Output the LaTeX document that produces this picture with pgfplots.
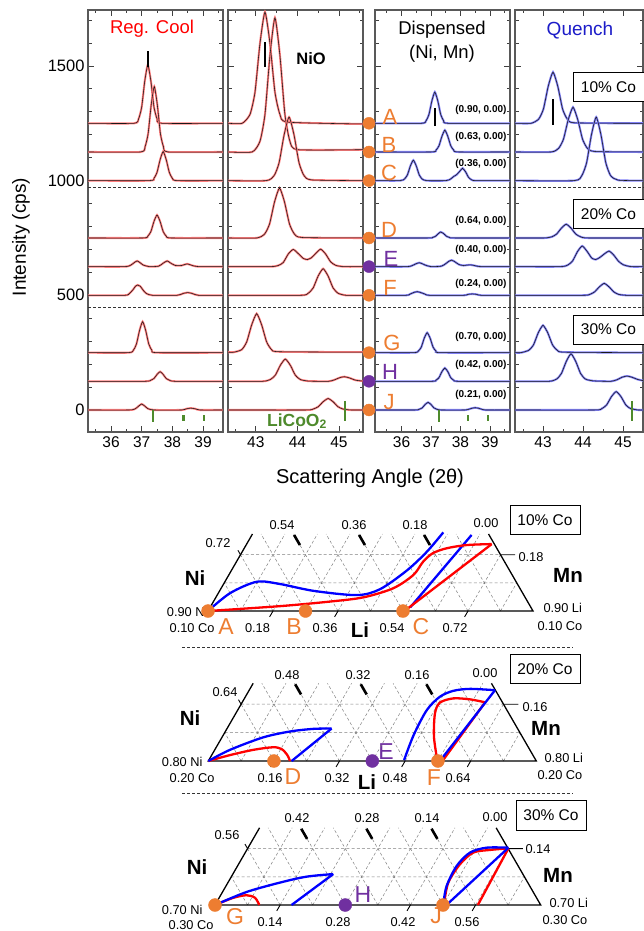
\documentclass[border=0pt]{standalone}
\usepackage{fontspec}
\setmainfont{Liberation Sans}
\usepackage{pgfplots}
\pgfplotsset{compat=1.18}
\newcommand{\fs}[1]{\fontsize{#1}{#1}\selectfont}
\definecolor{orng}{HTML}{ED7D31}
\definecolor{purp}{HTML}{7030A0}
\definecolor{grn}{HTML}{4E8A2C}
\definecolor{qblue}{HTML}{1C1CC8}
\definecolor{fitred}{HTML}{FF7C7C}
\definecolor{fitblue}{HTML}{7F7FF6}
\pgfplotsset{
  xrd/.style={scale only axis, anchor=south west, height=422pt, ymin=-96, ymax=1744,
    ytick={0,500,1000,1500},
    minor ytick={100,200,300,400,600,700,800,900,1100,1200,1300,1400,1600,1700},
    yticklabels={}, tick align=inside, xtick pos=both, ytick pos=both,
    major tick length=6pt, minor tick length=3.5pt,
    axis line style={draw=black!65, line width=1.2pt},
    tick style={black!75, line width=0.8pt},
    xticklabel style={font=\fs{15.5}, yshift=-1pt},
    yticklabel style={font=\fs{16.5}},
    /pgf/number format/assume math mode=true,
    clip=true},
  rfit/.style={fitred, line width=2.1pt, smooth, tension=0.35},
  bfit/.style={fitblue, line width=2.1pt, smooth, tension=0.35},
  dat/.style={black!90, line width=0.55pt, smooth, tension=0.35},
  tern/.style={scale only axis, anchor=south west, hide axis, clip=false,
    xmin=0, xmax=1, ymin=0, ymax=0.237},
  tred/.style={red, line width=2.3pt, smooth, tension=0.5},
  tblue/.style={blue, line width=2.3pt, smooth, tension=0.5},
  dotO/.style={only marks, mark=*, mark size=6.3pt, mark options={draw=orng, fill=orng}},
  dotP/.style={only marks, mark=*, mark size=6.3pt, mark options={draw=purp, fill=purp}}
}
\newcommand{\tr}[2]{\addplot[#1] coordinates {#2};\addplot[dat] coordinates {#2};}
\newcommand{\lico}[3]{% green LiCoO2 reference ticks
  \draw[grn, line width=2.2pt] (#1,0) -- (#1,-54);
  \draw[grn, line width=2.2pt] (#2,-22) -- (#2,-47);
  \draw[grn, line width=2.2pt] (#3,-22) -- (#3,-47);}
\newcommand{\terngrid}{%
  \draw[gray, dash pattern=on 3pt off 2.2pt, line width=0.5pt]
    (0.05,0.0866) -- (0.95,0.0866) (0.1,0.1732) -- (0.9,0.1732)
    (0.1,0) -- (0.2368,0.237) (0.2,0) -- (0.3368,0.237) (0.3,0) -- (0.4368,0.237)
    (0.4,0) -- (0.5368,0.237) (0.5,0) -- (0.6368,0.237) (0.6,0) -- (0.7368,0.237)
    (0.7,0) -- (0.8368,0.237) (0.8,0) -- (0.9,0.1732) (0.9,0) -- (0.95,0.0866)
    (0.1,0) -- (0.05,0.0866) (0.2,0) -- (0.1,0.1732) (0.3,0) -- (0.1632,0.237)
    (0.4,0) -- (0.2632,0.237) (0.5,0) -- (0.3632,0.237) (0.6,0) -- (0.4632,0.237)
    (0.7,0) -- (0.5632,0.237) (0.8,0) -- (0.6632,0.237) (0.9,0) -- (0.7632,0.237);
  \draw[black, line width=1.3pt] (0.1368,0.237) -- (0,0) -- (1,0) -- (0.8632,0.237);
  \draw[black, line width=2.6pt] (0.2828,0.203) -- (0.2649,0.234)
    (0.4828,0.203) -- (0.4649,0.234) (0.6828,0.203) -- (0.6649,0.234);
  \draw[black, line width=0.9pt] (0.2,0) -- (0.1896,-0.018) (0.4,0) -- (0.3896,-0.018)
    (0.6,0) -- (0.5896,-0.018) (0.8,0) -- (0.7896,-0.018)
    (0.9,0.1732) -- (0.945,0.1732) (0.092,0.187) -- (0.1,0.1732);}

\begin{document}
\begin{tikzpicture}[x=1pt, y=-1pt]
\path[use as bounding box] (0,0) rectangle (644,931);

% ---------------- Reg. Cool, 36-39
\begin{axis}[xrd, at={(88pt,-432pt)}, width=135pt, xmin=35.25, xmax=39.65,
  xtick={36,37,38,39}, minor xtick={35.5,36.5,37.5,38.5,39.5}, yticklabels={0,500,1000,1500}]
  \tr{rfit}{(35.25,1250)(36.75,1250)(36.9,1270)(37.0,1321)(37.1,1434)(37.2,1505)(37.3,1434)(37.4,1321)(37.5,1270)(37.65,1250)(39.65,1250)}
  \tr{rfit}{(35.25,1125)(36.96,1125)(37.11,1148)(37.21,1205)(37.31,1330)(37.41,1410)(37.51,1330)(37.61,1205)(37.71,1148)(37.86,1125)(39.65,1125)}
  \tr{rfit}{(35.25,1000)(37.25,1000)(37.4,1010)(37.5,1036)(37.6,1091)(37.7,1127)(37.8,1091)(37.9,1036)(38.0,1010)(38.15,1000)(39.65,1000)}
  \tr{rfit}{(35.25,750)(37.05,750)(37.2,758)(37.3,778)(37.4,822)(37.5,850)(37.6,822)(37.7,778)(37.8,758)(37.95,750)(39.65,750)}
  \tr{rfit}{(35.25,625)(36.45,625)(36.65,632)(36.75,642)(36.85,650)(36.95,642)(37.05,632)(37.25,625)(37.55,627)(37.7,640)(37.83,650)(37.95,640)(38.1,630)(38.3,630)(38.48,637)(38.65,630)(38.85,625)(39.65,625)}
  \tr{rfit}{(35.25,500)(36.45,500)(36.6,508)(36.72,525)(36.8,540)(36.87,545)(36.95,540)(37.05,522)(37.15,508)(37.35,500)(38.15,500)(38.35,508)(38.5,512)(38.65,508)(38.85,500)(39.65,500)}
  \tr{rfit}{(35.25,250)(36.58,250)(36.73,261)(36.83,288)(36.93,347)(37.03,385)(37.13,347)(37.23,288)(37.33,261)(37.48,250)(39.65,250)}
  \tr{rfit}{(35.25,125)(37.1,125)(37.3,130)(37.4,137)(37.5,155)(37.6,167)(37.7,155)(37.8,137)(37.9,130)(38.1,125)(39.65,125)}
  \tr{rfit}{(35.25,0)(36.6,0)(36.8,6)(36.9,17)(37.0,26)(37.1,17)(37.2,6)(37.4,0)(38.3,0)(38.45,5)(38.6,8)(38.75,5)(38.9,0)(39.65,0)}
  \draw[black, line width=2.6pt] (37.2,1495) -- (37.2,1565);
  \lico{37.38}{38.36}{39.02}
\end{axis}

% ---------------- Reg. Cool, 43-45
\begin{axis}[xrd, at={(228pt,-432pt)}, width=135pt, xmin=42.33, xmax=45.58,
  xtick={43,44,45}, minor xtick={42.5,43.5,44.5,45.5}]
  \tr{rfit}{(42.33,1250)(42.67,1250)(42.86,1289)(42.98,1386)(43.10,1599)(43.22,1735)(43.34,1599)(43.46,1386)(43.58,1289)(43.77,1255)(45.58,1247)}
  \tr{rfit}{(42.33,1125)(42.91,1125)(43.10,1172)(43.22,1289)(43.34,1546)(43.46,1710)(43.58,1546)(43.70,1289)(43.82,1172)(44.01,1135)(45.58,1135)}
  \tr{rfit}{(42.33,1000)(43.25,1000)(43.44,1022)(43.56,1078)(43.68,1199)(43.80,1277)(43.92,1199)(44.04,1078)(44.16,1022)(44.35,1003)(45.58,1000)}
  \tr{rfit}{(42.33,750)(43.02,750)(43.21,767)(43.33,811)(43.45,907)(43.57,968)(43.69,907)(43.81,811)(43.93,767)(44.12,752)(45.58,750)}
  \tr{rfit}{(42.33,625)(43.35,625)(43.54,630)(43.66,643)(43.78,680)(43.9,700)(44.02,682)(44.14,661)(44.24,656)(44.34,664)(44.44,682)(44.56,701)(44.68,680)(44.8,646)(44.92,631)(45.1,625)(45.58,625)}
  \tr{rfit}{(42.33,500)(44.07,500)(44.26,509)(44.38,532)(44.5,584)(44.62,616)(44.74,584)(44.86,532)(44.98,509)(45.17,500)(45.58,500)}
  \tr{rfit}{(42.33,252)(42.47,252)(42.66,263)(42.78,297)(42.9,371)(43.02,420)(43.14,371)(43.26,297)(43.38,263)(43.57,254)(45.58,252)}
  \tr{rfit}{(42.33,125)(43.16,125)(43.35,133)(43.47,152)(43.59,195)(43.71,222)(43.83,195)(43.95,152)(44.07,133)(44.26,126)(44.75,125)(44.9,132)(45.02,141)(45.13,145)(45.25,140)(45.4,130)(45.58,126)}
  \tr{rfit}{(42.33,0)(44.19,0)(44.38,4)(44.5,14)(44.62,36)(44.74,50)(44.86,36)(44.98,14)(45.1,4)(45.29,0)(45.58,0)}
  \draw[black, line width=2.6pt] (43.22,1497) -- (43.22,1606);
  \draw[grn, line width=2.2pt] (45.15,40) -- (45.15,-50);
\end{axis}

% ---------------- Dispensed, 36-39
\begin{axis}[xrd, at={(375pt,-432pt)}, width=135pt, xmin=35.1, xmax=39.68,
  xtick={36,37,38,39}, minor xtick={35.5,36.5,37.5,38.5,39.5}]
  \tr{bfit}{(35.1,1250)(36.68,1250)(36.83,1261)(36.93,1288)(37.03,1348)(37.13,1386)(37.23,1348)(37.33,1288)(37.43,1261)(37.58,1250)(39.68,1250)}
  \tr{bfit}{(35.1,1125)(37.02,1125)(37.17,1133)(37.27,1152)(37.37,1193)(37.47,1220)(37.57,1193)(37.67,1152)(37.77,1133)(37.92,1125)(39.68,1125)}
  \tr{bfit}{(35.1,1000)(35.95,1000)(36.1,1007)(36.2,1025)(36.3,1064)(36.4,1089)(36.5,1064)(36.6,1025)(36.7,1007)(36.85,1000)(37.5,1000)(37.65,1006)(37.77,1018)(37.87,1026)(37.97,1040)(38.07,1054)(38.17,1039)(38.27,1015)(38.37,1004)(38.52,1000)(39.68,1000)}
  \tr{bfit}{(35.1,750)(36.9,750)(37.05,752)(37.15,757)(37.25,769)(37.33,776)(37.43,769)(37.53,757)(37.63,752)(37.8,750)(39.68,750)}
  \tr{bfit}{(35.1,625)(36.2,625)(36.4,632)(36.5,638)(36.6,642)(36.7,638)(36.8,632)(37.0,625)(37.35,627)(37.5,638)(37.6,648)(37.7,653)(37.8,647)(37.95,634)(38.1,630)(38.33,633)(38.5,629)(38.7,625)(39.68,625)}
  \tr{bfit}{(35.1,500)(36.15,500)(36.3,506)(36.43,513)(36.53,516)(36.63,513)(36.78,506)(36.95,500)(38.1,500)(38.25,504)(38.4,506)(38.55,504)(38.7,500)(39.68,500)}
  \tr{bfit}{(35.1,250)(36.42,250)(36.57,257)(36.67,274)(36.77,313)(36.87,337)(36.97,313)(37.07,274)(37.17,257)(37.32,250)(39.68,250)}
  \tr{bfit}{(35.1,125)(37.02,125)(37.17,130)(37.27,141)(37.37,167)(37.47,183)(37.57,167)(37.67,141)(37.77,130)(37.92,125)(39.68,125)}
  \tr{bfit}{(35.1,0)(36.45,0)(36.6,3)(36.7,9)(36.8,24)(36.9,33)(37.0,24)(37.1,9)(37.2,3)(37.35,0)(38.15,0)(38.3,4)(38.4,8)(38.5,10)(38.6,8)(38.7,4)(38.85,0)(39.68,0)}
  \draw[black, line width=2.6pt] (37.14,1238) -- (37.14,1317);
  \lico{37.27}{38.26}{38.93}
\end{axis}

% ---------------- Quench, 43-45
\begin{axis}[xrd, at={(515pt,-432pt)}, width=128pt, xmin=42.3, xmax=45.5,
  xtick={43,44,45}, minor xtick={42.5,43.5,44.5,45.5}]
  \tr{bfit}{(42.3,1250)(42.7,1250)(42.89,1268)(43.01,1312)(43.13,1411)(43.25,1473)(43.37,1411)(43.49,1312)(43.61,1268)(43.8,1252)(45.5,1250)}
  \tr{bfit}{(42.3,1125)(43.2,1125)(43.39,1141)(43.51,1180)(43.63,1265)(43.75,1320)(43.87,1265)(43.99,1180)(44.11,1141)(44.3,1127)(45.5,1125)}
  \tr{bfit}{(42.3,1000)(43.78,1000)(43.97,1022)(44.09,1078)(44.21,1199)(44.33,1277)(44.45,1199)(44.57,1078)(44.69,1022)(44.88,1002)(45.5,1000)}
  \tr{bfit}{(42.3,750)(43.03,750)(43.22,755)(43.34,767)(43.46,793)(43.58,810)(43.7,793)(43.82,767)(43.94,755)(44.13,750)(45.5,750)}
  \tr{bfit}{(42.3,625)(43.43,625)(43.62,632)(43.74,650)(43.86,690)(43.98,715)(44.1,692)(44.22,662)(44.32,656)(44.42,665)(44.53,680)(44.65,693)(44.77,675)(44.89,648)(45.01,633)(45.2,625)(45.5,625)}
  \tr{bfit}{(42.3,500)(43.98,500)(44.17,504)(44.29,515)(44.41,537)(44.53,552)(44.65,537)(44.77,515)(44.89,504)(45.08,500)(45.5,500)}
  \tr{bfit}{(42.3,250)(42.45,250)(42.64,260)(42.76,283)(42.88,336)(43.0,369)(43.12,336)(43.24,283)(43.36,260)(43.55,252)(45.5,250)}
  \tr{bfit}{(42.3,125)(43.15,125)(43.34,135)(43.46,159)(43.58,211)(43.7,245)(43.82,211)(43.94,159)(44.06,135)(44.25,127)(44.7,125)(44.85,132)(44.98,143)(45.1,148)(45.22,143)(45.37,133)(45.5,128)}
  \tr{bfit}{(42.3,0)(44.28,0)(44.47,6)(44.59,22)(44.71,58)(44.83,80)(44.95,58)(45.07,22)(45.19,6)(45.38,0)(45.5,0)}
  \draw[black, line width=2.6pt] (43.25,1243) -- (43.25,1356);
  \draw[grn, line width=2.2pt] (45.22,40) -- (45.22,-50);
\end{axis}

% separators across the four panels
\draw[black!80, dash pattern=on 3pt off 2pt, line width=0.6pt] (88,187) -- (644,187) (88,307) -- (644,307);

% sample markers in the gap
\begin{axis}[at={(363pt,-432pt)}, anchor=south west, scale only axis, width=12pt, height=422pt,
  xmin=0, xmax=1, ymin=-96, ymax=1744, hide axis, clip=false]
  \addplot[dotO, mark size=6pt] coordinates {(0.5,1250)(0.5,1125)(0.5,1000)(0.5,750)(0.5,500)(0.5,250)(0.5,0)};
  \addplot[dotP, mark size=6pt] coordinates {(0.5,625)(0.5,125)};
\end{axis}

\begin{scope}[font=\fs{22}, text=orng]
  \node at (390,117) {A}; \node at (389,145) {B}; \node at (389,173) {C};
  \node at (389,230) {D}; \node[text=purp] at (391,259) {E}; \node at (390,288) {F};
  \node at (392,343) {G}; \node[text=purp] at (390,372) {H}; \node at (389,402) {J};
\end{scope}
\begin{scope}[font=\bfseries\fs{10}]
  \node[anchor=east] at (510,110) {(0.90, 0.00)};
  \node[anchor=east] at (510,137) {(0.63, 0.00)};
  \node[anchor=east] at (510,164) {(0.36, 0.00)};
  \node[anchor=east] at (510,221) {(0.64, 0.00)};
  \node[anchor=east] at (510,250) {(0.40, 0.00)};
  \node[anchor=east] at (510,284) {(0.24, 0.00)};
  \node[anchor=east] at (510,337) {(0.70, 0.00)};
  \node[anchor=east] at (510,365) {(0.42, 0.00)};
  \node[anchor=east] at (510,395) {(0.21, 0.00)};
\end{scope}

\node[font=\fs{18.5}, text=red] at (152,29) {Reg. Cool};
\node[font=\bfseries\fs{16.5}] at (311,59) {NiO};
\node[font=\fs{18.5}] at (442,30) {Dispensed};
\node[font=\fs{18.5}] at (442,54) {(Ni, Mn)};
\node[font=\fs{19}, text=qblue] at (580,30) {Quench};
\begin{scope}[every node/.style={draw, line width=1pt, fill=white, minimum width=71pt, minimum height=29pt, inner sep=0pt, font=\fs{15.5}}]
  \node at (608.5,87.5) {10\% Co};
  \node at (608.5,214) {20\% Co};
  \node at (608.5,329.5) {30\% Co};
\end{scope}
\node[font=\bfseries\fs{17.5}, text=grn] at (297,421) {LiCoO\textsubscript{2}};
\node[rotate=90, font=\fs{19}] at (21,237) {Intensity (cps)};
\node[font=\fs{20}] at (370,478) {Scattering Angle (2θ)};

% ---------------- ternary labels
\begin{scope}[font=\fs{12.8}]
  % 10% Co
  \node at (218,543) {0.72};
  \node at (282,525) {0.54}; \node at (354,525) {0.36}; \node at (415,525) {0.18}; \node at (486,523) {0.00};
  \node at (531,557) {0.18};
  \node[anchor=east] at (211,612) {0.90 Ni}; \node[anchor=east] at (218,628) {0.10 Co};
  \node[anchor=west] at (540,608) {0.90 Li}; \node[anchor=west] at (534,626) {0.10 Co};
  \node at (257.5,628) {0.18}; \node at (325,628) {0.36}; \node at (392,628) {0.54}; \node at (455,628) {0.72};
  % 20% Co
  \node at (225,692) {0.64};
  \node at (287,675) {0.48}; \node at (358,675) {0.32}; \node at (417,675) {0.16}; \node at (485,673) {0.00};
  \node at (535,707) {0.16};
  \node[anchor=east] at (206,762) {0.80 Ni}; \node[anchor=east] at (218,778) {0.20 Co};
  \node[anchor=west] at (541,758) {0.80 Li}; \node[anchor=west] at (534,775) {0.20 Co};
  \node at (270,778) {0.16}; \node at (337,778) {0.32}; \node at (395,778) {0.48}; \node at (458,778) {0.64};
  % 30% Co
  \node at (227,835) {0.56};
  \node at (297,818) {0.42}; \node at (367,818) {0.28}; \node at (427,818) {0.14}; \node at (495,817) {0.00};
  \node at (538,849) {0.14};
  \node[anchor=east] at (206,910) {0.70 Ni}; \node[anchor=east] at (217,925) {0.30 Co};
  \node[anchor=west] at (546,903) {0.70 Li}; \node[anchor=west] at (539,920) {0.30 Co};
  \node at (270,922) {0.14}; \node at (338,922) {0.28}; \node at (403,922) {0.42}; \node at (467,922) {0.56};
\end{scope}
\begin{scope}[font=\bfseries\fs{20.5}]
  \node at (195,578) {Ni}; \node at (568,575) {Mn}; \node at (360,630) {Li};
  \node at (190,718) {Ni}; \node at (546,728) {Mn}; \node at (367,782) {Li};
  \node at (197,867) {Ni}; \node at (558,875) {Mn};
\end{scope}
\begin{scope}[font=\fs{23}, text=orng]
  \node at (226,627) {A}; \node at (294,627) {B}; \node at (421,627) {C};
  \node at (293,777) {D}; \node[text=purp] at (386,752) {E}; \node at (434,778) {F};
  \node at (235,917) {G}; \node[text=purp] at (363,895) {H}; \node at (436,916) {J};
\end{scope}
\begin{scope}[every node/.style={draw, line width=1pt, minimum width=70pt, minimum height=29.5pt, inner sep=0pt, font=\fs{15.5}}]
  \node at (545,520) {10\% Co};
  \node at (545,669) {20\% Co};
  \node at (551,815.5) {30\% Co};
\end{scope}
\draw[black!80, dash pattern=on 3pt off 2pt, line width=0.6pt] (182,647) -- (573,647) (182,793) -- (573,793);

% ---------------- ternary 10% Co
\begin{axis}[tern, at={(208pt,-611pt)}, width=325pt, height=77pt]
  \terngrid
  \addplot[tblue] coordinates {(0,0)(0.068,0.055)(0.150,0.090)(0.222,0.083)(0.325,0.062)(0.458,0.049)(0.529,0.067)(0.611,0.124)(0.673,0.182)(0.724,0.242)};
  \addplot[tblue, sharp plot] coordinates {(0.622,0.011)(0.811,0.234)};
  \addplot[tred] coordinates {(0,0)(0.222,0.015)(0.375,0.029)(0.478,0.042)(0.570,0.070)(0.632,0.111)(0.662,0.152)(0.692,0.178)(0.734,0.193)(0.796,0.203)(0.873,0.206)};
  \addplot[tred, sharp plot] coordinates {(0.873,0.206)(0.611,0.005)};
  \addplot[dotO, mark size=6.5pt] coordinates {(0,0)(0.3,0)(0.6,0)};
\end{axis}

% ---------------- ternary 20% Co
\begin{axis}[tern, at={(208.3pt,-761pt)}, width=328pt, height=77.7pt]
  \terngrid
  \addplot[tred] coordinates {(0,0)(0.066,0.018)(0.137,0.034)(0.198,0.042)(0.224,0.036)(0.241,0.018)(0.249,0)};
  \addplot[tblue] coordinates {(0,0)(0.066,0.034)(0.167,0.072)(0.249,0.090)(0.320,0.098)(0.376,0.099)};
  \addplot[tblue, sharp plot] coordinates {(0.376,0.099)(0.254,0)};
  \addplot[tred] coordinates {(0.698,0.003)(0.688,0.074)(0.691,0.145)(0.706,0.178)(0.747,0.191)(0.798,0.188)(0.844,0.179)};
  \addplot[tred, sharp plot] coordinates {(0.844,0.179)(0.716,0.003)};
  \addplot[tblue] coordinates {(0.597,0.003)(0.626,0.079)(0.666,0.155)(0.706,0.196)(0.747,0.214)(0.798,0.220)(0.874,0.216)};
  \addplot[tblue, sharp plot] coordinates {(0.874,0.216)(0.706,0)};
  \addplot[dotO, mark size=6.5pt] coordinates {(0.2,0)(0.7,0)};
  \addplot[dotP, mark size=6.5pt] coordinates {(0.5,0)};
\end{axis}

% ---------------- ternary 30% Co
\begin{axis}[tern, at={(215pt,-905pt)}, width=325.7pt, height=77.2pt]
  \terngrid
  \addplot[tred] coordinates {(0,0)(0.056,0.022)(0.097,0.030)(0.123,0.022)(0.136,0)};
  \addplot[tblue] coordinates {(0,0)(0.097,0.040)(0.2,0.069)(0.281,0.087)(0.363,0.095)};
  \addplot[tblue, sharp plot] coordinates {(0.363,0.095)(0.235,0)};
  \addplot[tred] coordinates {(0.703,0.002)(0.716,0.068)(0.752,0.125)(0.793,0.161)(0.844,0.169)(0.901,0.174)};
  \addplot[tred, sharp plot] coordinates {(0.901,0.174)(0.807,0)};
  \addplot[tblue] coordinates {(0.701,0.002)(0.711,0.058)(0.742,0.120)(0.783,0.161)(0.834,0.176)(0.901,0.176)};
  \addplot[tblue, sharp plot] coordinates {(0.901,0.176)(0.716,0.005)};
  \addplot[dotO, mark size=6.5pt] coordinates {(0,0)(0.7,0)};
  \addplot[dotP, mark size=6.5pt] coordinates {(0.4,0)};
\end{axis}
\end{tikzpicture}
\end{document}
